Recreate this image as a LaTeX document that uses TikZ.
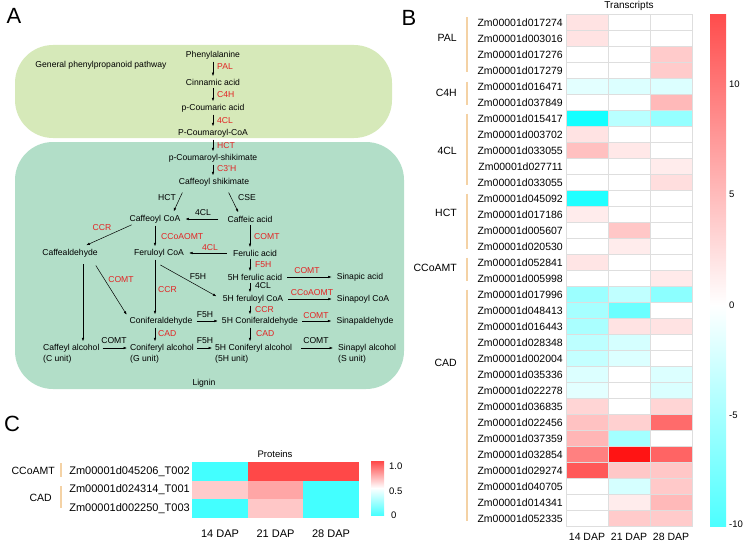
\documentclass[tikz,border=0pt]{standalone}
\usepackage{fontspec}
\setmainfont{Liberation Sans}
\usetikzlibrary{arrows.meta}
\definecolor{enzred}{RGB}{226,36,36}
\definecolor{boxgreen}{RGB}{214,233,185}
\definecolor{boxteal}{RGB}{178,222,200}
\definecolor{hr}{RGB}{255,20,20}
\definecolor{hc}{RGB}{20,255,255}
\definecolor{grpbar}{RGB}{244,210,165}
\definecolor{gridgray}{RGB}{222,222,222}
\tikzstyle{met} = [inner sep=1pt, font={\fontsize{8.6}{11}\selectfont}]
\tikzstyle{enz} = [met, text=enzred]
\tikzstyle{unit} = [met, anchor=west, align=left]
\tikzstyle{conv} = [-{Latex[length=3.5pt,width=2.6pt]}, line width=0.5pt, shorten <=1.5pt, shorten >=1.5pt]
\tikzstyle{gene} = [anchor=east, inner sep=0pt, font={\fontsize{10.5}{12}\selectfont}]
\tikzstyle{genec} = [gene, font={\fontsize{11}{13}\selectfont}]
\tikzstyle{grpline} = [draw=grpbar, line width=1.8pt]
\tikzstyle{gridl} = [draw=gridgray, line width=0.4pt]
\tikzstyle{panel} = [inner sep=0pt, font={\fontsize{22}{24}\selectfont}]
\tikzstyle{tick} = [anchor=west, inner sep=0pt, font={\fontsize{9.5}{11}\selectfont}]
\tikzstyle{title} = [inner sep=0pt, font={\fontsize{10}{12}\selectfont}]

\begin{document}
\begin{tikzpicture}[x=1pt, y=-1pt]
    \useasboundingbox (0,0) rectangle (744,543);
    \node[panel](lA) at (14,16){A};
    \node[panel](lB) at (409,18){B};
    \node[panel](lC) at (12,424){C};
    \fill[boxgreen, rounded corners=38pt] (15,45) rectangle (392,138);
    \fill[boxteal, rounded corners=38pt] (15,142) rectangle (404,389);
    \node[met](gpp) at (101,65){General phenylpropanoid pathway};
    \node[met](lig) at (204,383){Lignin};
    \coordinate (colC) at (83,0);
    \coordinate (colL) at (155,0);
    \coordinate (colR) at (250,0);

    \node[met](phe) at (213,55){Phenylalanine};
    \node[met](cin) at (213,82){Cinnamic acid};
    \node[met](pca) at (213,108){p-Coumaric acid};
    \node[met](pcoa) at (213,133){P-Coumaroyl-CoA};
    \node[met](pcs) at (213,158){p-Coumaroyl-shikimate};
    \node[met](cfs) at (214,182){Caffeoyl shikimate};
    \node[enz,anchor=west](ePAL) at (216,67){PAL};
    \node[enz,anchor=west](eC4H) at (216,95){C4H};
    \node[enz,anchor=west](e4CL) at (216,121){4CL};
    \node[enz,anchor=west](eHCT) at (216,146){HCT};
    \node[enz,anchor=west](eC3H) at (216,169){C3'H};
    \draw[conv](phe)--(cin);
    \draw[conv](cin)--(pca);
    \draw[conv](pca)--(pcoa);
    \draw[conv](pcoa)--(pcs);
    \draw[conv](pcs.south -| phe)--(cfs.north -| phe);

    \node[met](cfcoa) at (155,219){Caffeoyl CoA};
    \node[met](cfa) at (250,219){Caffeic acid};
    \node[met](cald) at (70,253){Caffealdehyde};
    \node[met](fcoa) at (159,253){Feruloyl CoA};
    \node[met](fa) at (255,253){Ferulic acid};
    \node[met](fha) at (255,277){5H ferulic acid};
    \node[met](sia) at (360,277){Sinapic acid};
    \node[met](fcoa5) at (253,299){5H feruloyl CoA};
    \node[met](spc) at (363,299){Sinapoyl CoA};
    \node[met](cnal) at (161,321){Coniferaldehyde};
    \node[met](cnal5) at (260,321){5H Coniferaldehyde};
    \node[met](sald) at (365,321){Sinapaldehyde};
    \node[unit](cal) at (42,353.5){Caffeyl alcohol\\(C unit)};
    \node[unit](coa) at (129,353.5){Coniferyl alcohol\\(G unit)};
    \node[unit](coa5) at (214,353.5){5H Coniferyl alcohol\\(5H unit)};
    \node[unit](sal) at (337,353.5){Sinapyl alcohol\\(S unit)};

    \draw[conv]([xshift=-31pt,yshift=-4pt]cfs.south)--([xshift=18pt,yshift=1pt]cfcoa.north);
    \draw[conv]([xshift=14pt,yshift=-4pt]cfs.south)--([xshift=-11pt,yshift=1pt]cfa.north);
    \node[met](lHCT) at (167,198){HCT};
    \node[met](lCSE) at (247,198){CSE};
    \draw[conv,shorten <=8pt,shorten >=4pt](cfa)--(cfcoa);
    \node[met](l4CL1) at (203,213){4CL};
    \draw[conv]([xshift=-22pt]cfcoa.south)--([xshift=15pt,yshift=2pt]cald.north);
    \node[enz](eCCR1) at (102,228){CCR};
    \draw[conv](cfcoa.south -| colL)--(fcoa.north -| colL);
    \node[enz,anchor=west](eCCoA1) at (160,237){CCoAOMT};
    \draw[conv](cfa.south -| colR)--(fa.north -| colR);
    \node[enz,anchor=west](eCOMT1) at (253,237){COMT};
    \draw[conv,shorten <=5pt,shorten >=4pt](fa)--(fcoa);
    \node[enz](e4CL2) at (210,248){4CL};
    \draw[conv](fa.south -| colR)--(fha.north -| colR);
    \node[enz,anchor=west](eF5H1) at (254,265){F5H};
    \draw[conv,shorten <=4pt,shorten >=4pt](fha)--(sia);
    \node[enz](eCOMT2) at (307,271){COMT};
    \draw[conv](fha.south -| colR)--(fcoa5.north -| colR);
    \node[met,anchor=west](l4CL3) at (254,286){4CL};
    \draw[conv,shorten <=4pt,shorten >=4pt](fcoa5)--(spc);
    \node[enz](eCCoA2) at (312,293){CCoAOMT};
    \draw[conv]([yshift=-6pt]fcoa.south)--([xshift=-4pt,yshift=2pt]fcoa5.west);
    \node[met](lF5H1) at (198,277){F5H};
    \draw[conv](fcoa5.south -| colR)--(cnal5.north -| colR);
    \node[enz,anchor=west](eCCR3) at (254,310){CCR};
    \draw[conv]([xshift=25pt,yshift=-6pt]cald.south)--([xshift=-1pt,yshift=5pt]cnal.west);
    \node[enz](eCOMT3) at (121,280){COMT};
    \draw[conv,shorten <=6pt](cald.south -| colC)--(cal.north -| colC);
    \draw[conv](fcoa.south -| colL)--(cnal.north -| colL);
    \node[enz,anchor=west](eCCR2) at (157,290){CCR};
    \draw[conv,shorten <=3pt,shorten >=3pt](cnal)--(cnal5);
    \node[met](lF5H2) at (205,315){F5H};
    \draw[conv,shorten <=3pt,shorten >=4pt](cnal5)--(sald);
    \node[enz](eCOMT4) at (316,316){COMT};
    \draw[conv](cnal.south -| colL)--(coa.north -| colL);
    \node[enz,anchor=west](eCAD1) at (157,334){CAD};
    \draw[conv](cnal5.south -| colR)--(coa5.north -| colR);
    \node[enz,anchor=west](eCAD2) at (255,334){CAD};
    \draw[conv,shorten <=2pt,shorten >=2pt]([yshift=5.5pt]cal.east)--([yshift=5.5pt]coa.west);
    \node[met](lCOMT1) at (114,341){COMT};
    \draw[conv,shorten <=2pt,shorten >=2pt]([yshift=5.5pt]coa.east)--([yshift=5.5pt]coa5.west);
    \node[met](lF5H3) at (205,341){F5H};
    \draw[conv,shorten <=8pt,shorten >=4pt]([yshift=5.5pt]coa5.east)--([yshift=5.5pt]sal.west);
    \node[met](lCOMT2) at (316,341){COMT};

    \node[title](trs) at (629,6){Transcripts};
    \foreach \a/\b/\c [count=\i] in {12/0/0,12/0/0,0/0/22,0/0/22,-12/-15/-15,0/0/30,-100/-30/-45,12/0/0,27/10/0,0/0/8,0/0/14,-95/0/0,8/0/0,0/24/0,0/8/0,11/0/0,0/0/9,-42/-27/-49,-38/-63/0,-36/12/12,-28/-18/0,-25/-15/0,-15/0/-15,-12/0/-16,18/0/18,26/20/63,31/-39/0,54/100/66,71/24/24,0/-18/23,0/8/30,0/22/22}{
        \foreach \v [count=\j] in {\a,\b,\c}{
            \ifnum\v<0 \edef\cellcol{hc!\number-\v!white}\else\edef\cellcol{hr!\v!white}\fi
            \fill[\cellcol] ({566+42*(\j-1)},{14.5+16*(\i-1)}) rectangle ++(42,16);
        }
    }
    \foreach \i in {0,...,32}
        \draw[gridl] (566,{14.5+16*\i}) -- (692,{14.5+16*\i});
    \foreach \x in {566,608,650,692}
        \draw[gridl] (\x,14.5) -- (\x,526.5);
    \foreach \g [count=\i] in {017274,003016,017276,017279,016471,037849,015417,003702,033055,027711,033055,045092,017186,005607,020530,052841,005998,017996,048413,016443,028348,002004,035336,022278,036835,022456,037359,032854,029274,040705,014341,052335}
        \node[gene](g\i) at (563,{6.5+16*\i}){Zm00001d\g};
    \foreach \g/\y/\a/\b in {PAL/38/1/4,C4H/93/5/6,4CL/151/7/11,HCT/213/12/15,CCoAMT/268/16/17,CAD/363/18/32}{
        \node[gene](grp\g) at (457,\y){\g};
        \draw[grpline] (467,{14.5+16*(\a-1)+3}) -- (467,{14.5+16*\b-6});
    }
    \foreach \d [count=\j] in {14,21,28}
        \node[title,font={\fontsize{10.5}{12}\selectfont}](dB\j) at ({545+42*\j},537){\d{} DAP};
    \shade[top color=hr!76!white, bottom color=white] (710,14.5) rectangle (726,305);
    \shade[top color=white, bottom color=hc!76!white] (710,305) rectangle (726,526.5);
    \foreach \t/\y [count=\k] in {10/84,5/194.5,0/305,-5/415.5,-10/524}
        \node[tick](tB\k) at (729,\y){\t};

    \node[title,font={\fontsize{9.5}{11}\selectfont}](prt) at (275,454){Proteins};
    \foreach \a/\b/\c [count=\i] in {-80/78/78,22/38/-80,-80/24/-80}{
        \foreach \v [count=\j] in {\a,\b,\c}{
            \ifnum\v<0 \edef\cellcol{hc!\number-\v!white}\else\edef\cellcol{hr!\v!white}\fi
            \fill[\cellcol] ({192+55.5*(\j-1)},{462+18.5*(\i-1)}) rectangle ++(55.5,18.5);
        }
    }
    \foreach \g [count=\i] in {045206\_T002,024314\_T001,002250\_T003}
        \node[genec](p\i) at (190,{452.75+18.5*\i}){Zm00001d\g};
    \node[gene](cgA) at (55,471){CCoAMT};
    \node[gene](cgB) at (52,498){CAD};
    \draw[grpline] (61,463) -- (61,477);
    \draw[grpline] (61,486) -- (61,508);
    \foreach \d [count=\j] in {14,21,28}
        \node[title,font={\fontsize{11}{13}\selectfont}](dC\j) at ({164.5+55.5*\j},534){\d{} DAP};
    \shade[top color=hr!78!white, bottom color=hc!78!white, middle color=white] (371,461) rectangle (384,515);
    \node[tick](tC1) at (389,466){1.0};
    \node[tick](tC2) at (389,491){0.5};
    \node[tick](tC3) at (391,515){0};
\end{tikzpicture}
\end{document}
